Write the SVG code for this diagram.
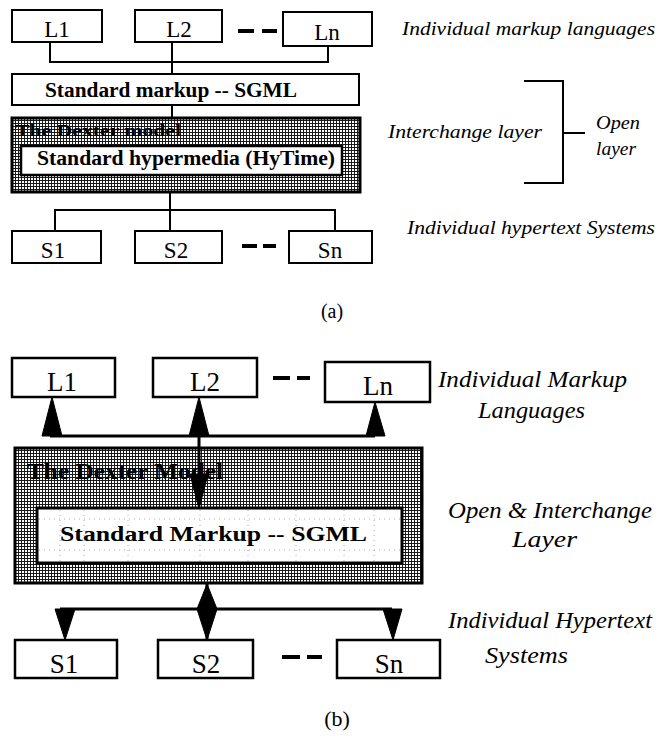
<svg xmlns="http://www.w3.org/2000/svg" width="672" height="742" viewBox="0 0 672 742">
  <style>
    .box { fill: #fff; stroke: #000; stroke-width: 2; }
    .boxb { fill: #fff; stroke: #000; stroke-width: 2.5; }
    .shade { fill: url(#stipple); stroke: #000; stroke-width: 3; }
    .inner { fill: #fff; stroke: #000; stroke-width: 3; }
    .lbl { font-family: "Liberation Serif", "Times New Roman", serif; fill: #000; text-anchor: middle; }
    .bold { font-family: "Liberation Serif", "Times New Roman", serif; font-weight: bold; fill: #000; }
    .side { font-family: "Liberation Serif", "Times New Roman", serif; font-style: italic; fill: #000; }
    .wire { fill: none; stroke: #000; stroke-width: 2; }
    .wireb { fill: none; stroke: #000; stroke-width: 3; }
    .dash { stroke: #000; stroke-width: 4; }
    .head { fill: #000; stroke: #000; stroke-width: 1; stroke-linejoin: round; }
    .grid { stroke: #aaa; stroke-width: 1; stroke-dasharray: 1 4; }
  </style>
  <defs>
    <pattern id="stipple" width="3" height="3" patternUnits="userSpaceOnUse">
      <rect width="3" height="3" fill="#fff"/>
      <rect width="3" height="1" fill="#1a1a1a"/>
      <rect width="1" height="3" fill="#1a1a1a"/>
    </pattern>
  </defs>

  <rect width="672" height="742" fill="#fff"/>

  <!-- ===== (a) layered architecture ===== -->
  <g id="connectors-a">
    <polyline class="wire" points="50,42 50,62 328,62 328,46"/>
    <line class="wire" x1="172" y1="42" x2="172" y2="74"/>
    <line class="wire" x1="172" y1="105" x2="172" y2="146"/>
    <line class="wire" x1="170" y1="192" x2="170" y2="231"/>
    <polyline class="wire" points="55,231 55,210 335,210 335,231"/>
  </g>

  <g id="a-L1"><rect class="box" x="12" y="10" width="90" height="32"/><text class="lbl" x="57" y="37" font-size="23">L1</text></g>
  <g id="a-L2"><rect class="box" x="135" y="10" width="87" height="32"/><text class="lbl" x="179" y="37" font-size="23">L2</text></g>
  <g id="a-Ln"><rect class="box" x="283" y="12" width="89" height="34"/><text class="lbl" x="327" y="40" font-size="23">Ln</text></g>
  <g id="a-dots-top"><line class="dash" x1="238" y1="31" x2="254" y2="31"/><line class="dash" x1="262" y1="31" x2="277" y2="31"/></g>

  <g id="a-sgml">
    <rect class="box" x="12" y="74" width="347" height="31"/>
    <text class="bold" x="45" y="97" font-size="20" textLength="252" lengthAdjust="spacingAndGlyphs">Standard markup -- SGML</text>
  </g>

  <g id="a-dexter">
    <rect class="shade" x="12" y="118" width="348" height="74"/>
    <text class="bold" x="15" y="136" font-size="17" textLength="166" lengthAdjust="spacingAndGlyphs">The Dexter model</text>
    <rect class="boxb" x="21" y="146" width="321" height="29"/>
    <text class="bold" x="37" y="165" font-size="20" textLength="298" lengthAdjust="spacingAndGlyphs">Standard hypermedia (HyTime)</text>
  </g>

  <g id="a-S1"><rect class="box" x="12" y="231" width="89" height="32"/><text class="lbl" x="53" y="258" font-size="23">S1</text></g>
  <g id="a-S2"><rect class="box" x="135" y="231" width="87" height="32"/><text class="lbl" x="176" y="258" font-size="23">S2</text></g>
  <g id="a-Sn"><rect class="box" x="289" y="231" width="83" height="32"/><text class="lbl" x="330" y="258" font-size="23">Sn</text></g>
  <g id="a-dots-bottom"><line class="dash" x1="242" y1="246" x2="257" y2="246"/><line class="dash" x1="263" y1="246" x2="276" y2="246"/></g>

  <g id="a-labels">
    <text class="side" x="402" y="35" font-size="18" textLength="253" lengthAdjust="spacingAndGlyphs">Individual markup languages</text>
    <text class="side" x="388" y="138" font-size="18" textLength="154" lengthAdjust="spacingAndGlyphs">Interchange layer</text>
    <polyline class="wire" points="524,81 563,81 563,183 524,183"/>
    <line class="wire" x1="563" y1="133" x2="585" y2="133"/>
    <text class="side" x="596" y="129" font-size="18" textLength="44" lengthAdjust="spacingAndGlyphs">Open</text>
    <text class="side" x="596" y="155" font-size="18" textLength="40" lengthAdjust="spacingAndGlyphs">layer</text>
    <text class="side" x="407" y="234" font-size="18" textLength="248" lengthAdjust="spacingAndGlyphs">Individual hypertext Systems</text>
  </g>
  <text class="lbl" x="332" y="318" font-size="20">(a)</text>

  <!-- ===== (b) merged open & interchange layer ===== -->
  <g id="b-L1"><rect class="boxb" x="12" y="358" width="103" height="39"/><text class="lbl" x="62" y="391" font-size="27">L1</text></g>
  <g id="b-L2"><rect class="boxb" x="153" y="358" width="104" height="39"/><text class="lbl" x="205" y="391" font-size="27">L2</text></g>
  <g id="b-Ln"><rect class="boxb" x="325" y="362" width="105" height="40"/><text class="lbl" x="378" y="395" font-size="27">Ln</text></g>
  <g id="b-dots-top"><line class="dash" x1="273" y1="378" x2="290" y2="378"/><line class="dash" x1="297" y1="378" x2="310" y2="378"/></g>

  <g id="b-dexter">
    <rect class="shade" x="15" y="448" width="407" height="135"/>
    <text class="bold" x="27" y="479" font-size="23" textLength="196" lengthAdjust="spacingAndGlyphs">The Dexter Model</text>
    <rect class="inner" x="37" y="508" width="365" height="55"/>
    <g id="b-sgml-grid">
      <line class="grid" x1="39" y1="519" x2="400" y2="519"/>
      <line class="grid" x1="39" y1="550" x2="400" y2="550"/>
      <line class="grid" x1="60" y1="510" x2="60" y2="561"/>
      <line class="grid" x1="84" y1="510" x2="84" y2="561"/>
      <line class="grid" x1="128" y1="510" x2="128" y2="561"/>
      <line class="grid" x1="200" y1="510" x2="200" y2="561"/>
      <line class="grid" x1="248" y1="510" x2="248" y2="561"/>
      <line class="grid" x1="296" y1="510" x2="296" y2="561"/>
      <line class="grid" x1="344" y1="510" x2="344" y2="561"/>
      <line class="grid" x1="374" y1="510" x2="374" y2="561"/>
    </g>
    <text class="bold" x="60" y="541" font-size="22" textLength="307" lengthAdjust="spacingAndGlyphs">Standard Markup -- SGML</text>
  </g>

  <g id="connectors-b">
    <line class="wireb" x1="50" y1="436" x2="375" y2="436"/>
    <polygon class="head" points="52,397 62,436 42,436"/>
    <polygon class="head" points="199,397 209,436 189,436"/>
    <polygon class="head" points="375,402 385,436 366,436"/>
    <line class="wireb" x1="199" y1="436" x2="199" y2="476"/>
    <polygon class="head" points="190,474 208,474 199,509"/>

    <line class="wireb" x1="60" y1="609" x2="392" y2="609"/>
    <line class="wireb" x1="207" y1="584" x2="207" y2="640"/>
    <polygon class="head" points="207,584 217,609 207,640 197,609"/>
    <polygon class="head" points="55,609 75,609 65,640"/>
    <polygon class="head" points="383,609 402,609 393,640"/>
  </g>

  <g id="b-S1"><rect class="boxb" x="15" y="640" width="102" height="38"/><text class="lbl" x="64" y="673" font-size="27">S1</text></g>
  <g id="b-S2"><rect class="boxb" x="158" y="640" width="95" height="38"/><text class="lbl" x="206" y="673" font-size="27">S2</text></g>
  <g id="b-Sn"><rect class="boxb" x="337" y="640" width="103" height="38"/><text class="lbl" x="389" y="673" font-size="27">Sn</text></g>
  <g id="b-dots-bottom"><line class="dash" x1="282" y1="657" x2="300" y2="657"/><line class="dash" x1="307" y1="657" x2="322" y2="657"/></g>

  <g id="b-labels">
    <text class="side" x="438" y="387" font-size="23" textLength="189" lengthAdjust="spacingAndGlyphs">Individual Markup</text>
    <text class="side" x="478" y="418" font-size="23" textLength="107" lengthAdjust="spacingAndGlyphs">Languages</text>
    <text class="side" x="448" y="518" font-size="23" textLength="204" lengthAdjust="spacingAndGlyphs">Open &amp; Interchange</text>
    <text class="side" x="512" y="547" font-size="23" textLength="65" lengthAdjust="spacingAndGlyphs">Layer</text>
    <text class="side" x="448" y="628" font-size="23" textLength="204" lengthAdjust="spacingAndGlyphs">Individual Hypertext</text>
    <text class="side" x="485" y="663" font-size="23" textLength="83" lengthAdjust="spacingAndGlyphs">Systems</text>
  </g>
  <text class="lbl" x="337" y="726" font-size="22">(b)</text>
</svg>
